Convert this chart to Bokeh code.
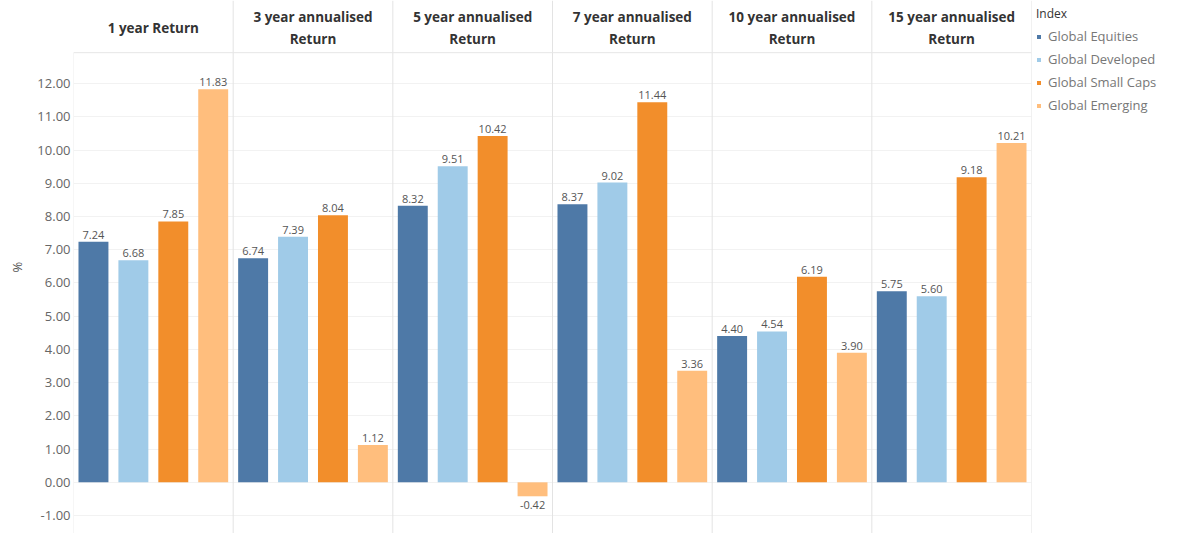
from bokeh.plotting import figure
from bokeh.models import (Range1d, FixedTicker, NumeralTickFormatter, Span,
                          Legend, LegendItem, ColumnDataSource)
from bokeh.core.properties import value
from bokeh.embed import file_html
from bokeh.resources import INLINE

# --- data -------------------------------------------------------------------
periods = ["1 year Return", "3 year annualised\nReturn", "5 year annualised\nReturn",
           "7 year annualised\nReturn", "10 year annualised\nReturn",
           "15 year annualised\nReturn"]
indexes = ["Global Equities", "Global Developed", "Global Small Caps", "Global Emerging"]
global_equities = [7.24, 6.74, 8.32, 8.37, 4.40, 5.75]
global_developed = [6.68, 7.39, 9.51, 9.02, 4.54, 5.60]
global_small_caps = [7.85, 8.04, 10.42, 11.44, 6.19, 9.18]
global_emerging = [11.83, 1.12, -0.42, 3.36, 3.90, 10.21]
y_ticks = [-1, 0, 1, 2, 3, 4, 5, 6, 7, 8, 9, 10, 11, 12]

series = [global_equities, global_developed, global_small_caps, global_emerging]
colors = ["#4e79a7", "#a0cbe8", "#f28e2b", "#ffbe7d"]

FONT = "Open Sans"
n_idx = len(indexes)
n_per = len(periods)

# frame geometry: pixel rows mapped to data values
FRAME_H = 533
Y_TOP, Y_BOT = 14.5, -1.54
HEADER_LINE = 12.93
HEADER_Y = 13.66

p = figure(frame_width=958, frame_height=FRAME_H,
           x_range=Range1d(0, n_idx * n_per), y_range=Range1d(Y_BOT, Y_TOP),
           output_backend="svg", toolbar_location=None,
           min_border_left=73, min_border_right=0, min_border_top=0, min_border_bottom=0)

p.background_fill_color = "white"
p.border_fill_color = "white"
p.outline_line_color = None

# axes
p.xaxis.visible = False
p.yaxis.ticker = FixedTicker(ticks=y_ticks)
p.yaxis.formatter = NumeralTickFormatter(format="0.00")
p.yaxis.axis_line_color = None
p.yaxis.major_tick_line_color = None
p.yaxis.minor_tick_line_color = None
p.yaxis.major_tick_out = 0
p.yaxis.major_tick_in = 0
p.yaxis.major_label_standoff = 3
p.yaxis.major_label_text_font = FONT
p.yaxis.major_label_text_font_size = "13px"
p.yaxis.major_label_text_color = "#666666"
p.yaxis.axis_label = "%"
p.yaxis.axis_label_text_font = FONT
p.yaxis.axis_label_text_font_size = "13px"
p.yaxis.axis_label_text_font_style = "normal"
p.yaxis.axis_label_text_color = "#555555"
p.yaxis.axis_label_standoff = 8

p.xgrid.visible = False
p.ygrid.grid_line_color = "#f2f2f2"
p.ygrid.grid_line_width = 1

# panel dividers and header separator
for k in range(1, n_per):
    p.add_layout(Span(location=k * n_idx, dimension="height",
                      line_color="#e3e3e3", line_width=1))
p.segment(x0=[0, n_idx * n_per], y0=[Y_BOT, Y_BOT], x1=[0, n_idx * n_per],
          y1=[HEADER_LINE, Y_TOP], line_color=["#eeeeee", "#e3e3e3"], line_width=1)
p.add_layout(Span(location=HEADER_LINE, dimension="width",
                  line_color="#e6e6e6", line_width=1))

# period headers
p.text(x=[k * n_idx + n_idx / 2 for k in range(n_per)], y=[HEADER_Y] * n_per,
       text=periods, text_align="center", text_baseline="middle",
       text_font=value(FONT), text_font_size="13.5px", text_font_style="bold",
       text_color="#333333", text_line_height=1.22)

# bars and value labels
legend_items = []
for j, (name, vals, col) in enumerate(zip(indexes, series, colors)):
    xs = [k * n_idx + j + 0.5 for k in range(n_per)]
    src = ColumnDataSource(dict(x=xs, top=vals))
    r = p.vbar(x="x", top="top", bottom=0, width=0.75, source=src,
               fill_color=col, line_color=None)
    legend_items.append(LegendItem(label=name, renderers=[r]))

    pos = ColumnDataSource(dict(x=[x for x, v in zip(xs, vals) if v >= 0],
                                y=[v for v in vals if v >= 0],
                                t=[f"{v:.2f}" for v in vals if v >= 0]))
    neg = ColumnDataSource(dict(x=[x for x, v in zip(xs, vals) if v < 0],
                                y=[v for v in vals if v < 0],
                                t=[f"{v:.2f}" for v in vals if v < 0]))
    p.text(x="x", y="y", text="t", source=pos, text_align="center",
           text_baseline="bottom", y_offset=-3, text_font=value(FONT),
           text_font_size="11px", text_color="#555555")
    p.text(x="x", y="y", text="t", source=neg, text_align="center",
           text_baseline="top", y_offset=5, text_font=value(FONT),
           text_font_size="11px", text_color="#555555")

legend = Legend(items=legend_items, location="top_left", title="Index",
                orientation="vertical")
legend.title_text_font = FONT
legend.title_text_font_size = "12px"
legend.title_text_font_style = "normal"
legend.title_text_color = "#333333"
legend.title_standoff = 4
legend.label_text_font = FONT
legend.label_text_font_size = "13px"
legend.label_text_color = "#777777"
legend.glyph_width = 5
legend.glyph_height = 5
legend.label_standoff = 7
legend.label_height = 20
legend.spacing = 3
legend.margin = 5
legend.padding = 4
legend.border_line_color = None
legend.background_fill_alpha = 0
p.add_layout(legend, "right")

open("out.html", "w").write(file_html(p, INLINE))
